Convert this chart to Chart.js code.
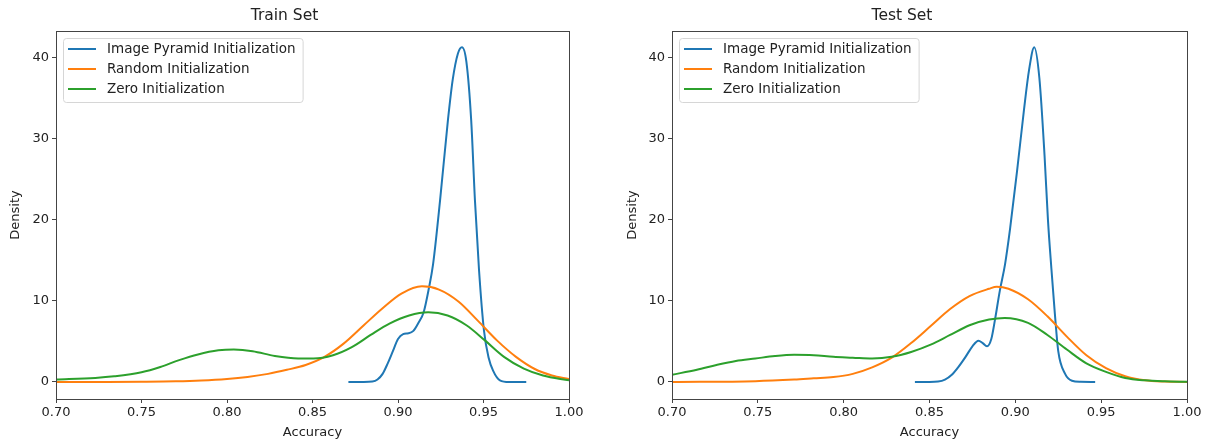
<!DOCTYPE html>
<html>
<head>
<meta charset="utf-8">
<script src="https://cdn.jsdelivr.net/npm/chart.js@4.4.1/dist/chart.umd.min.js"></script>
<style>
  body { margin: 0; background: #fff; }
  .panel { position: absolute; top: 0; height: 443px; }
  #panel-train { left: 0; width: 605px; }
  #panel-test { left: 605px; width: 605px; }
</style>
</head>
<body>
<div class="panel" id="panel-train"><canvas id="train-chart"></canvas></div>
<div class="panel" id="panel-test"><canvas id="test-chart"></canvas></div>
<script>
const seriesLabels = ['Image Pyramid Initialization', 'Random Initialization', 'Zero Initialization']
const seriesColors = ['#1f77b4', '#ff7f0e', '#2ca02c']
const xTicks = [0.70, 0.75, 0.80, 0.85, 0.90, 0.95, 1.00]
const yTicks = [0, 10, 20, 30, 40]

// Train set densities
const trainPyramidX = [0.871, 0.880, 0.885, 0.888, 0.891, 0.894, 0.897, 0.900, 0.903, 0.906, 0.909, 0.912, 0.915, 0.918, 0.9205, 0.9246, 0.9292, 0.932, 0.935, 0.9374, 0.940, 0.9428, 0.945, 0.9474, 0.9503, 0.953, 0.9556, 0.9596, 0.965, 0.975]
const trainPyramidY = [0, 0, 0.05, 0.3, 1.0, 2.3, 3.8, 5.3, 5.9, 6.0, 6.3, 7.3, 8.6, 11.5, 14.5, 22.4, 32.3, 37.3, 40.5, 41.3, 39.5, 32.3, 22.4, 13.75, 6.3, 3.0, 1.4, 0.2, 0, 0]
const trainRandomX = [0.70, 0.73, 0.75, 0.77, 0.785, 0.80, 0.812, 0.824, 0.835, 0.846, 0.857, 0.868, 0.880, 0.891, 0.902, 0.914, 0.924, 0.9355, 0.9465, 0.958, 0.969, 0.980, 0.990, 1.00]
const trainRandomY = [0, 0.01, 0.03, 0.08, 0.18, 0.37, 0.62, 1.0, 1.5, 2.1, 3.1, 4.7, 7.0, 9.1, 10.9, 11.8, 11.4, 9.9, 7.6, 5.1, 3.1, 1.6, 0.8, 0.35]
const trainZeroX = [0.70, 0.723, 0.734, 0.750, 0.761, 0.772, 0.783, 0.795, 0.804, 0.815, 0.828, 0.8416, 0.8506, 0.862, 0.873, 0.884, 0.895, 0.9065, 0.9177, 0.929, 0.940, 0.951, 0.962, 0.9736, 0.9848, 1.00]
const trainZeroY = [0.3, 0.5, 0.7, 1.2, 1.85, 2.7, 3.4, 3.9, 4.0, 3.8, 3.2, 2.9, 2.9, 3.3, 4.3, 5.8, 7.2, 8.2, 8.6, 8.2, 7.0, 5.1, 3.1, 1.65, 0.8, 0.2]

// Test set densities
const testPyramidX = [0.8415, 0.850, 0.855, 0.859, 0.863, 0.867, 0.871, 0.875, 0.8785, 0.881, 0.8835, 0.886, 0.888, 0.891, 0.894, 0.897, 0.901, 0.905, 0.908, 0.911, 0.914, 0.917, 0.919, 0.921, 0.923, 0.925, 0.929, 0.933, 0.938, 0.9465]
const testPyramidY = [0, 0, 0.05, 0.3, 0.9, 1.9, 3.1, 4.4, 5.1, 4.8, 4.4, 5.3, 7.5, 11.3, 14.5, 19, 26, 33.5, 38.5, 41.3, 37.5, 28, 20, 14, 8.5, 3.8, 1.0, 0.15, 0.02, 0]
const testRandomX = [0.70, 0.7486, 0.7712, 0.7826, 0.794, 0.8053, 0.8166, 0.828, 0.8393, 0.8507, 0.862, 0.8733, 0.8847, 0.8892, 0.896, 0.9074, 0.9187, 0.930, 0.9414, 0.9528, 0.964, 0.9755, 0.987, 1.00]
const testRandomY = [0, 0.1, 0.3, 0.45, 0.6, 1.0, 1.8, 3.0, 4.8, 6.9, 9.0, 10.6, 11.5, 11.75, 11.5, 10.2, 8.1, 5.6, 3.3, 1.7, 0.7, 0.2, 0.05, 0.01]
const testZeroX = [0.70, 0.7145, 0.7259, 0.7372, 0.7486, 0.76, 0.7712, 0.7826, 0.794, 0.8053, 0.8166, 0.828, 0.8393, 0.8507, 0.862, 0.8733, 0.8847, 0.8938, 0.9074, 0.9187, 0.930, 0.9414, 0.9528, 0.964, 0.9755, 0.987, 1.00]
const testZeroY = [0.9, 1.5, 2.1, 2.6, 2.9, 3.2, 3.35, 3.3, 3.1, 3.0, 2.9, 3.1, 3.7, 4.6, 5.8, 7.0, 7.7, 7.9, 7.3, 5.8, 4.0, 2.3, 1.25, 0.5, 0.2, 0.08, 0.03]

const FONT = "'DejaVu Sans', sans-serif"

function toPoints(xs, ys) {
    return xs.map((x, i) => ({ x: x, y: ys[i] }))
}

// matplotlib-like box around the axes + legend in upper left
const boxLegend = {
    id: 'boxLegend',
    afterDraw(chart) {
        const ctx = chart.ctx
        const a = chart.chartArea
        ctx.save()
        ctx.strokeStyle = '#444'
        ctx.lineWidth = 1
        ctx.strokeRect(Math.round(a.left) + 0.5, Math.round(a.top) + 0.5, Math.round(a.right - a.left), Math.round(a.bottom - a.top))

        ctx.font = '13.5px ' + FONT
        let textW = 0
        seriesLabels.forEach(l => { textW = Math.max(textW, ctx.measureText(l).width) })
        const bx = a.left + 7, by = a.top + 7
        const bw = 44 + textW + 7, bh = 64
        ctx.beginPath()
        ctx.roundRect(bx + 0.5, by + 0.5, bw, bh, 3)
        ctx.fillStyle = 'rgba(255,255,255,0.8)'
        ctx.fill()
        ctx.strokeStyle = '#d6d6d6'
        ctx.stroke()

        ctx.textBaseline = 'middle'
        ctx.textAlign = 'left'
        chart.data.datasets.forEach((ds, i) => {
            const yy = by + 11 + i * 20
            ctx.beginPath()
            ctx.moveTo(bx + 5, yy)
            ctx.lineTo(bx + 33, yy)
            ctx.strokeStyle = ds.borderColor
            ctx.lineWidth = 2
            ctx.stroke()
            ctx.fillStyle = '#222'
            ctx.fillText(ds.label, bx + 44, yy)
        })
        ctx.restore()
    }
}

function makeChart(canvas, title, series, padLeft, padRight, yWidth) {
    return new Chart(canvas, {
        type: 'line',
        data: {
            datasets: series.map((pts, i) => ({
                label: seriesLabels[i],
                data: pts,
                borderColor: seriesColors[i],
                backgroundColor: seriesColors[i],
                borderWidth: 2,
                pointRadius: 0,
                cubicInterpolationMode: 'monotone',
                order: 3 - i
            }))
        },
        options: {
            responsive: true,
            maintainAspectRatio: false,
            animation: false,
            layout: { padding: { left: padLeft, right: padRight, top: 0, bottom: 0 } },
            plugins: {
                legend: { display: false },
                tooltip: { enabled: false },
                title: {
                    display: true,
                    text: title,
                    color: '#222',
                    font: { family: FONT, size: 15.5, weight: 'normal' },
                    padding: { top: 7, bottom: 5.4 }
                }
            },
            scales: {
                x: {
                    type: 'linear',
                    min: 0.70,
                    max: 1.00,
                    afterBuildTicks: s => { s.ticks = xTicks.map(v => ({ value: v })) },
                    afterFit: s => { s.height = 44 },
                    ticks: {
                        color: '#222',
                        font: { family: FONT, size: 13 },
                        padding: 2,
                        maxRotation: 0,
                        callback: v => v.toFixed(2)
                    },
                    grid: { drawOnChartArea: false, drawTicks: true, tickLength: 4, color: '#444' },
                    border: { color: '#444' },
                    title: {
                        display: true,
                        text: 'Accuracy',
                        color: '#222',
                        font: { family: FONT, size: 13 },
                        padding: { top: 0, bottom: 3 }
                    }
                },
                y: {
                    type: 'linear',
                    min: -2.1,
                    max: 43.3,
                    afterBuildTicks: s => { s.ticks = yTicks.map(v => ({ value: v })) },
                    afterFit: s => { s.width = yWidth },
                    ticks: {
                        color: '#222',
                        font: { family: FONT, size: 13 },
                        padding: 3
                    },
                    grid: { drawOnChartArea: false, drawTicks: true, tickLength: 4, color: '#444' },
                    border: { color: '#444' },
                    title: {
                        display: true,
                        text: 'Density',
                        color: '#222',
                        font: { family: FONT, size: 13 },
                        padding: { top: 8, bottom: 0 }
                    }
                }
            }
        },
        plugins: [boxLegend]
    })
}

makeChart(document.getElementById('train-chart'), 'Train Set', [
    toPoints(trainPyramidX, trainPyramidY),
    toPoints(trainRandomX, trainRandomY),
    toPoints(trainZeroX, trainZeroY)
], 0, 36, 56)

makeChart(document.getElementById('test-chart'), 'Test Set', [
    toPoints(testPyramidX, testPyramidY),
    toPoints(testRandomX, testRandomY),
    toPoints(testZeroX, testZeroY)
], 12, 23, 55)
</script>
</body>
</html>
